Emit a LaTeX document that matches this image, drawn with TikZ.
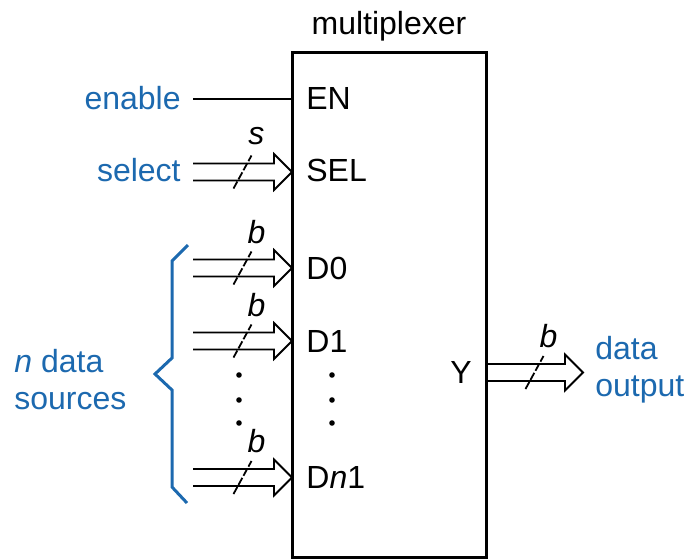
\documentclass[tikz,border=0pt]{standalone}
\usepackage{fontspec}
\setmainfont{Liberation Sans}
\usetikzlibrary{calc}
\definecolor{labelblue}{RGB}{28,105,175}

\tikzset{
  muxbox/.style={draw, line width=1.5pt, outer sep=0pt, inner sep=0pt},
  pinlabel/.style={font=\fontsize{16}{19}\selectfont, inner sep=0pt},
  sidelabel/.style={font=\fontsize{16}{18.5}\selectfont, text=labelblue, inner sep=0pt, align=left},
  bus/.style={line width=0.9pt, line join=miter},
  slash/.style={line width=0.9pt, dash pattern=on 4pt off 1.2pt},
  widthlabel/.style={font=\fontsize{16}{19}\selectfont\itshape, inner sep=0pt},
}

% bus arrow: start, tip, width label
\newcommand{\busarrow}[3]{%
  \draw[bus] ($(#1)+(0,-8.5)$) -- ($(#2)+(-18,-8.5)$) -- ++(0,-9.5) -- (#2)
     -- ($(#2)+(-18,18)$) -- ++(0,-9.5) -- ($(#1)+(0,8.5)$);
  \coordinate (mid) at ($(#1)!0.5!(#2)$);
  \draw[slash] ($(mid)+(-9,16.5)$) -- ($(mid)+(9,-16.5)$);
  \node[widthlabel] at ($(mid)+(14,-36)$) {#3};
}

\begin{document}
\begin{tikzpicture}[x=0.5pt, y=-0.5pt]
    \useasboundingbox (0,0) rectangle (687,559);

    % The multiplexer box
    \node[muxbox, minimum width=97pt, minimum height=252.5pt] (mux) at (389,304.5) {};
    \node[pinlabel] (title) at (389,26) {multiplexer};

    % Pin names
    \node[pinlabel, anchor=west] (en) at (306,98) {EN};
    \node[pinlabel, anchor=west] (sel) at (306,170) {SEL};
    \node[pinlabel, anchor=west] (d0) at (306,268) {D0};
    \node[pinlabel, anchor=west] (d1) at (306,341) {D1};
    \node[pinlabel, anchor=west] (dn) at (306,477) {D\textit{n}1};
    \node[pinlabel, anchor=east] (y) at (472,372) {Y};

    % Outside labels
    \node[sidelabel, anchor=east] (enable) at (181,98) {enable};
    \node[sidelabel, anchor=east] (select) at (181,170) {select};
    \node[sidelabel, anchor=west] (sources) at (14,380) {\textit{n} data\\sources};
    \node[sidelabel, anchor=west] (output) at (595,370) {data\\output};

    % Enable line
    \draw[bus] ([xshift=6pt]enable.east |- 0,99) -- (mux.west |- 0,99);

    % Bus inputs
    \coordinate (selin) at (193,172);
    \coordinate (seltip) at (selin -| mux.west);
    \busarrow{selin}{seltip}{s}
    \coordinate (d0in) at (193,268);
    \coordinate (d0tip) at (d0in -| mux.west);
    \busarrow{d0in}{d0tip}{b}
    \coordinate (d1in) at (193,341);
    \coordinate (d1tip) at (d1in -| mux.west);
    \busarrow{d1in}{d1tip}{b}
    \coordinate (dnin) at (193,477.5);
    \coordinate (dntip) at (dnin -| mux.west);
    \busarrow{dnin}{dntip}{b}

    % Bus output
    \coordinate (ytip) at (583,372.5);
    \coordinate (yout) at (ytip -| mux.east);
    \busarrow{yout}{ytip}{b}

    % Dots
    \foreach \yy in {375,400,423} {
        \fill (239,\yy) circle (1.4pt);
        \fill (332,\yy) circle (1.4pt);
    }

    % Brace
    \draw[labelblue, line width=1.5pt] (188,245) -- (172,261) -- (172,358) -- (155,374)
        -- (172,390) -- (172,487) -- (187,503);

\end{tikzpicture}
\end{document}
